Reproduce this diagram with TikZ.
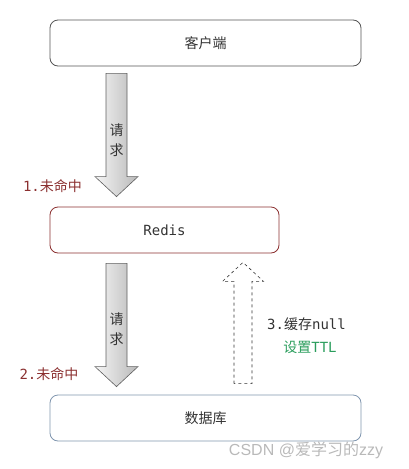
\documentclass[tikz,border=0pt]{standalone}
\usepackage{fontspec}
\setmonofont{DejaVu Sans Mono}
\newfontfamily\cjk{Noto Sans CJK SC}
\newfontfamily\wmfont{Liberation Sans}
\usetikzlibrary{calc}
\definecolor{boxgray}{HTML}{555555}
\definecolor{missred}{HTML}{8B3030}
\definecolor{dbblue}{HTML}{7F95AE}
\definecolor{ttlgreen}{HTML}{2A9D5C}
\definecolor{txtgray}{HTML}{333333}
\tikzset{
	box/.style={draw, rounded corners=8pt, line width=0.8pt, minimum width=#1, minimum height=46pt, inner sep=0pt, text=txtgray, font=\fontsize{14}{16}\selectfont},
	bigarrow/.style={draw=gray!75!black, line width=0.6pt, left color=gray!8, right color=gray!55},
	nullarrow/.style={draw=black!80, dashed, line width=0.6pt},
	lbl/.style={inner sep=0pt, font=\fontsize{14}{20}\selectfont}
}
\begin{document}
\begin{tikzpicture}[x=1pt,y=-1pt]
		\useasboundingbox (0,0) rectangle (409,469);
		
		%Boxes
		\node[box=311pt, draw=boxgray] (client) at (205.5,43) {\cjk 客户端};
		\node[box=229pt, draw=missred] (redis) at (164.5,230) {\ttfamily Redis};
		\node[box=311pt, draw=dbblue] (db) at (205.5,418) {\cjk 数据库};
		
		%Request arrow client -> Redis
		\def\x{116.5}
		\coordinate (a1top) at ($(client.south)!0!(client.south) + (\x-205.5,7)$);
		\coordinate (a1tip) at ($(redis.north) + (\x-164.5,-10)$);
		\draw[bigarrow] ($(a1top)+(-10.5,0)$) -- ($(a1tip)+(-10.5,-20)$) -- ($(a1tip)+(-21.5,-20)$) -- (a1tip)
			-- ($(a1tip)+(21.5,-20)$) -- ($(a1tip)+(10.5,-20)$) -- ($(a1top)+(10.5,0)$) -- cycle;
		\node[lbl, align=center, text=txtgray] (req1) at (\x,140) {\cjk 请\\\cjk 求};
		\node[lbl, text=missred] (miss1) at (52.5,186) {\ttfamily 1.\cjk 未命中};
		
		%Request arrow Redis -> DB
		\coordinate (a2top) at ($(redis.south) + (\x-164.5,10)$);
		\coordinate (a2tip) at ($(db.north) + (\x-205.5,-8)$);
		\draw[bigarrow] ($(a2top)+(-10.5,0)$) -- ($(a2tip)+(-10.5,-20)$) -- ($(a2tip)+(-21.5,-20)$) -- (a2tip)
			-- ($(a2tip)+(21.5,-20)$) -- ($(a2tip)+(10.5,-20)$) -- ($(a2top)+(10.5,0)$) -- cycle;
		\node[lbl, align=center, text=txtgray] (req2) at (\x,329) {\cjk 请\\\cjk 求};
		\node[lbl, text=missred] (miss2) at (49,374) {\ttfamily 2.\cjk 未命中};
		
		%Cache null arrow DB -> Redis
		\def\x{243}
		\coordinate (a3bot) at ($(db.north) + (\x-205.5,-11)$);
		\coordinate (a3tip) at ($(redis.south) + (\x-164.5,9)$);
		\draw[nullarrow] ($(a3bot)+(-9,0)$) -- ($(a3tip)+(-9,19)$) -- ($(a3tip)+(-20.5,19)$) -- (a3tip)
			-- ($(a3tip)+(20.5,19)$) -- ($(a3tip)+(9,19)$) -- ($(a3bot)+(9,0)$) -- cycle;
		\node[lbl, text=txtgray] (cache) at (306.5,324.5) {\ttfamily 3.\cjk 缓存\ttfamily null};
		\node[lbl, text=ttlgreen] (ttl) at (310,347) {\cjk 设置\ttfamily TTL};
		
		%Watermark
		\node[inner sep=0pt, text=gray!55, font=\fontsize{16}{18}\selectfont] (mark) at (306,450) {\wmfont CSDN @\cjk 爱学习的\wmfont zzy};
	\end{tikzpicture}
\end{document}
